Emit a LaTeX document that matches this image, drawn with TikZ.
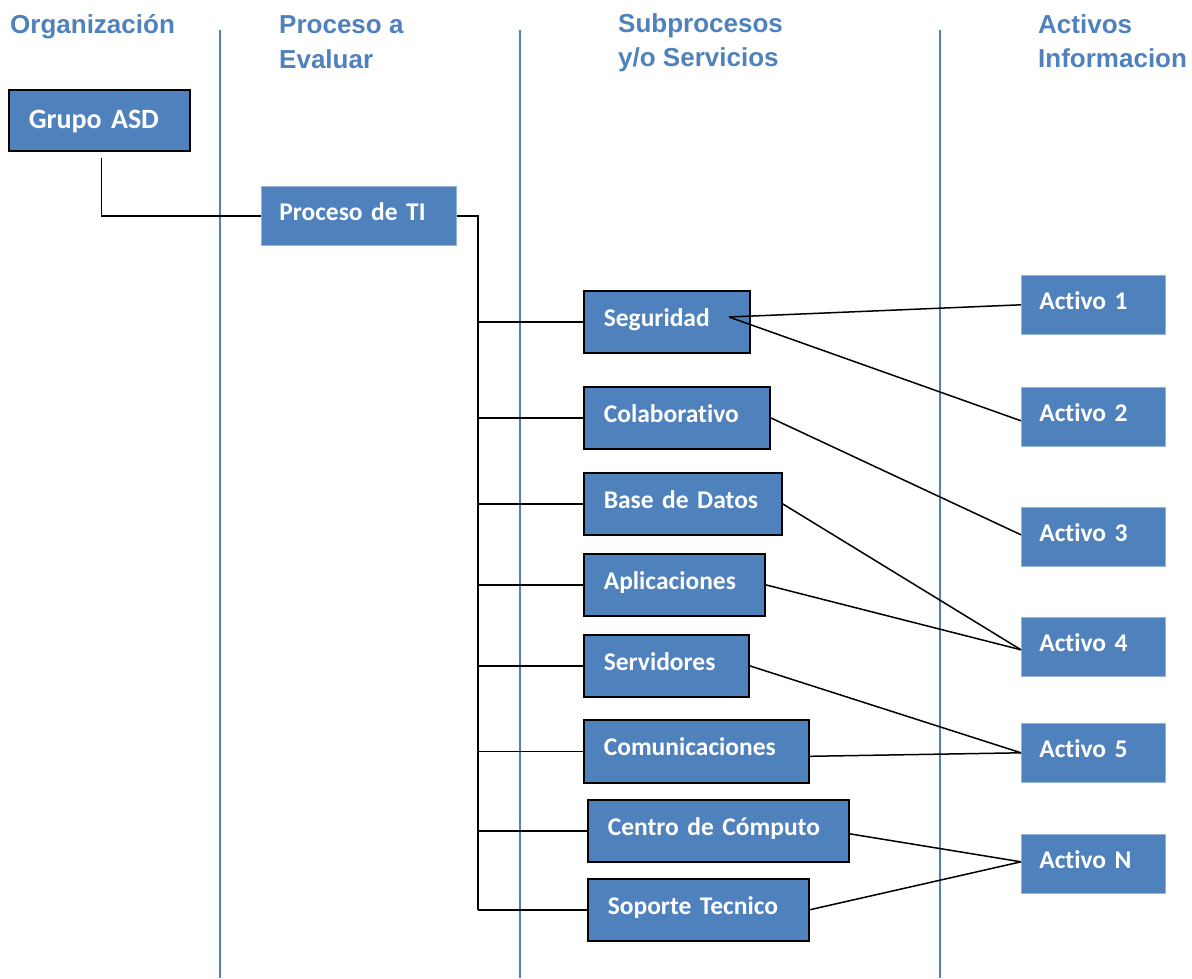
\documentclass[tikz,border=0pt]{standalone}
\usepackage{fontspec}
\setmainfont{Liberation Sans}
\newfontfamily\boxfam[Ligatures=NoCommon]{Carlito}
\newfontfamily\headfam{Liberation Sans}
\definecolor{myblue}{HTML}{4F81BD}
\begin{document}
\begin{tikzpicture}[x=1pt,y=-1pt,
  hdr/.style={anchor=base west, inner sep=0pt, text=myblue, font=\headfam\bfseries\fontsize{26pt}{30pt}\selectfont},
  bx/.style={rectangle, fill=myblue, anchor=north west, inner xsep=20pt, inner ysep=0pt,
    align=left, text=white, font=\boxfam\bfseries\fontsize{25.5pt}{30pt}\selectfont,
    text height=15pt, text depth=6pt},
  bordered/.style={draw=black, line width=1.6pt},
  plain/.style={draw=myblue!60!white, line width=0.6pt},
  lane/.style={draw=myblue, line width=1.2pt},
  conn/.style={draw=black, line width=1.5pt}
]
\useasboundingbox (0,0) rectangle (1192,978);

% lanes
\draw[lane] (220,30) -- (220,978);
\draw[lane] (520,30) -- (520,978);
\draw[lane] (940,30) -- (940,978);

% headers
\node[hdr] (h1) at (10,33) {Organización};
\node[hdr] (h2a) at (279,33) {Proceso a};
\node[hdr] (h2b) at (279,68) {Evaluar};
\node[hdr] (h3a) at (618,32) {Subprocesos};
\node[hdr] (h3b) at (618,66) {y/o Servicios};
\node[hdr] (h4a) at (1038,33) {Activos};
\node[hdr] (h4b) at (1038,67) {Informacion};

% boxes
\node[bx, bordered, text width=141pt, minimum height=61pt, font=\boxfam\bfseries\fontsize{28pt}{32pt}\selectfont, text height=20pt, text depth=4pt] (grupo) at (8,89) {Grupo ASD};
\node[bx, plain, text width=159pt, inner xsep=18pt, minimum height=59pt] (pti) at (261,186) {Proceso de TI};

\node[bx, bordered, text width=126pt, minimum height=62pt] (seg) at (583,290) {Seguridad};
\node[bx, bordered, text width=146pt, minimum height=62pt] (col) at (583,386) {Colaborativo};
\node[bx, bordered, text width=158pt, minimum height=62pt] (bd) at (583,472) {Base de Datos};
\node[bx, bordered, text width=141pt, minimum height=62pt] (apl) at (583,553) {Aplicaciones};
\node[bx, bordered, text width=125pt, minimum height=62pt] (srv) at (583,634) {Servidores};
\node[bx, bordered, text width=185pt, minimum height=63pt] (com) at (583,719) {Comunicaciones};
\node[bx, bordered, text width=221pt, minimum height=62pt] (cen) at (587,799) {Centro de Cómputo};
\node[bx, bordered, text width=181pt, minimum height=62pt] (sop) at (587,878) {Soporte Tecnico};

\node[bx, plain, text width=108pt, inner xsep=18pt, minimum height=59pt] (a1) at (1021,275) {Activo 1};
\node[bx, plain, text width=108pt, inner xsep=18pt, minimum height=59pt] (a2) at (1021,387) {Activo 2};
\node[bx, plain, text width=108pt, inner xsep=18pt, minimum height=59pt] (a3) at (1021,507) {Activo 3};
\node[bx, plain, text width=108pt, inner xsep=18pt, minimum height=59pt] (a4) at (1021,617) {Activo 4};
\node[bx, plain, text width=108pt, inner xsep=18pt, minimum height=59pt] (a5) at (1021,723) {Activo 5};
\node[bx, plain, text width=108pt, inner xsep=18pt, minimum height=59pt] (an) at (1021,834) {Activo N};

% tree connectors
\coordinate (tr) at (478,215);
\draw[conn] ([xshift=2pt,yshift=-6pt]grupo.south) |- (pti.west);
\draw[conn] (pti.east) -| (tr |- sop.west);
\foreach \n in {seg,col,bd,apl,srv,com,cen,sop}
  \draw[conn] (tr |- \n.west) -- (\n.west);

% asset connectors
\coordinate (segout) at (729,317);
\draw[conn] (segout) -- (a1.west);
\draw[conn] (segout) -- ([yshift=-4pt]a2.west);
\draw[conn] (col.east) -- ([yshift=2pt]a3.west);
\draw[conn] (bd.east) -- ([yshift=-3pt]a4.west);
\draw[conn] (apl.east) -- ([yshift=-3pt]a4.west);
\draw[conn] (srv.east) -- (a5.west);
\draw[conn] ([yshift=-5pt]com.east) -- (a5.west);
\draw[conn] ([yshift=-3pt]cen.east) -- ([yshift=2pt]an.west);
\draw[conn] (sop.east) -- ([yshift=2pt]an.west);
\end{tikzpicture}
\end{document}
